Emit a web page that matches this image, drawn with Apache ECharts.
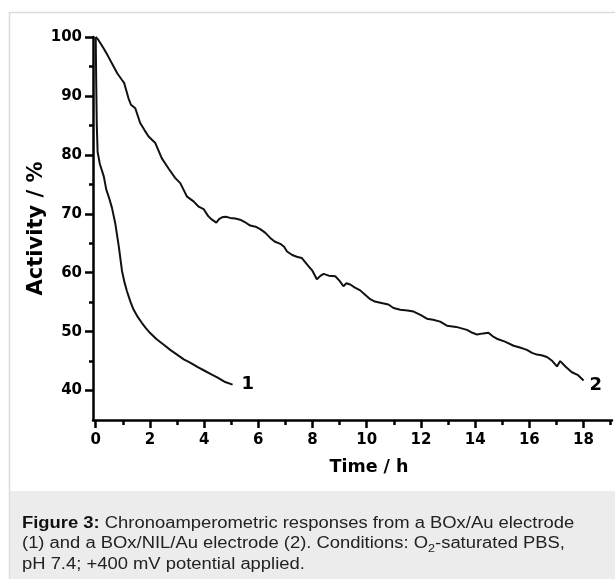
<!DOCTYPE html>
<html>
<head>
<meta charset="utf-8">
<script src="https://cdn.jsdelivr.net/npm/echarts@6/dist/echarts.min.js"></script>
<style>
  html, body { margin: 0; padding: 0; background: #fff; }
  #chart { width: 615px; height: 579px; }
</style>
</head>
<body>
<div id="chart"></div>
<script>
// curve 1: BOx/Au electrode
const timeAu = [0, 0.02, 0.04, 0.07, 0.15, 0.3, 0.39, 0.5, 0.6, 0.72, 0.85, 0.97, 1.06, 1.15, 1.28, 1.4, 1.55, 1.7, 1.85, 2.0, 2.25, 2.5, 2.75, 3.0, 3.25, 3.5, 3.75, 4.0, 4.25, 4.5, 4.75, 5.05];
const actAu = [100, 92, 85, 80.5, 78.5, 76.3, 74.1, 72.6, 71.0, 68.4, 64.5, 60.3, 58.4, 56.9, 55.1, 53.7, 52.5, 51.5, 50.6, 49.8, 48.7, 47.8, 46.9, 46.1, 45.3, 44.7, 44.0, 43.4, 42.8, 42.2, 41.5, 41.0];

// curve 2: BOx/NIL/Au electrode
const timeNil = [0, 0.1, 0.29, 0.45, 0.66, 0.8, 0.97, 1.05, 1.21, 1.3, 1.46, 1.64, 1.8, 1.95, 2.2, 2.44, 2.7, 2.93, 3.12, 3.24, 3.37, 3.61, 3.8, 3.98, 4.15, 4.29, 4.45, 4.55, 4.66, 4.8, 4.96, 5.15, 5.33, 5.5, 5.7, 5.9, 6.07, 6.25, 6.44, 6.6, 6.81, 6.95, 7.06, 7.25, 7.42, 7.6, 7.85, 8.0, 8.16, 8.3, 8.41, 8.6, 8.84, 9.0, 9.14, 9.25, 9.39, 9.55, 9.76, 9.95, 10.13, 10.3, 10.5, 10.8, 10.99, 11.24, 11.5, 11.73, 12.0, 12.22, 12.45, 12.71, 12.85, 12.96, 13.3, 13.7, 13.9, 14.07, 14.3, 14.49, 14.65, 14.8, 15.1, 15.42, 15.65, 15.91, 16.1, 16.28, 16.45, 16.65, 16.85, 17.02, 17.14, 17.35, 17.57, 17.8, 18.0];
const actNil = [100, 99.5, 98.1, 96.8, 95.0, 93.8, 92.7, 92.2, 89.6, 88.5, 87.9, 85.4, 84.2, 83.1, 82.0, 79.4, 77.6, 76.1, 75.2, 74.1, 72.9, 72.1, 71.2, 70.8, 69.6, 69.0, 68.5, 69.1, 69.4, 69.5, 69.3, 69.2, 69.0, 68.6, 68.0, 67.8, 67.4, 66.8, 65.9, 65.3, 64.9, 64.4, 63.6, 63.0, 62.7, 62.5, 61.1, 60.3, 58.9, 59.5, 59.8, 59.5, 59.4, 58.6, 57.7, 58.2, 58.0, 57.5, 57.0, 56.2, 55.5, 55.1, 54.9, 54.6, 54.0, 53.7, 53.6, 53.4, 52.8, 52.2, 52.0, 51.7, 51.3, 51.0, 50.8, 50.3, 49.8, 49.5, 49.7, 49.8, 49.2, 48.8, 48.3, 47.6, 47.3, 46.9, 46.4, 46.1, 46.0, 45.7, 45.0, 44.1, 45.0, 44.0, 43.1, 42.6, 41.7];

// axis ticks
const xMajor = [0, 2, 4, 6, 8, 10, 12, 14, 16, 18];
const xMinor = [1, 3, 5, 7, 9, 11, 13, 15, 17, 19];
const yMajor = [40, 50, 60, 70, 80, 90, 100];
const yMinor = [45, 55, 65, 75, 85, 95];

const seriesNames = ['1', '2'];
const captionText = '{b|Figure 3:} Chronoamperometric responses from a BOx/Au electrode\n' +
    '(1) and a BOx/NIL/Au electrode (2). Conditions: O{sub|2}-saturated PBS,\n' +
    'pH 7.4; +400 mV potential applied.';

const boldFont = 'DejaVu Sans';
const ink = '#000';

let pairs = (xs, ys) => xs.map((x, i) => [x, ys[i]]);

let chart = echarts.init(document.getElementById('chart'), null, {renderer: 'canvas'});

let axisBase = {
    type: 'value',
    gridIndex: 0,
    splitLine: {show: false},
};

let option = {
    animation: false,
    backgroundColor: '#fff',
    grid: {left: 93, top: 37, right: 3, bottom: 159, outerBoundsMode: 'none'},
    graphic: [
        {
            type: 'rect', silent: true, z: -10,
            shape: {x: 9.5, y: 12.5, width: 620, height: 580},
            style: {fill: '#fff', stroke: '#dadada', lineWidth: 1.5}
        },
        {
            type: 'rect', silent: true, z: -9,
            shape: {x: 10, y: 491, width: 610, height: 90},
            style: {fill: '#ececec'}
        },
        {
            // caption, widened a little like the figure
            type: 'text', silent: true,
            x: 22, y: 513, scaleX: 1.15,
            style: {
                text: captionText,
                font: '16px "Liberation Sans", Arial, sans-serif',
                fill: '#222',
                lineHeight: 20.5,
                verticalAlign: 'top',
                rich: {
                    b: {fontWeight: 'bold', fontSize: 16, fontFamily: 'Liberation Sans', lineHeight: 20.5, fill: '#111'},
                    sub: {fontSize: 11, fontFamily: 'Liberation Sans', lineHeight: 12, verticalAlign: 'bottom', fill: '#222'}
                }
            }
        }
    ],
    xAxis: [
        Object.assign({}, axisBase, {
            min: -0.1, max: 19.05,
            position: 'bottom',
            name: 'Time / h',
            nameLocation: 'middle',
            nameGap: 38,
            nameMoveOverlap: false,
            nameTextStyle: {fontFamily: boldFont, fontWeight: 'bold', fontSize: 17.5, color: ink, padding: [0, 0, 0, 33]},
            axisLine: {onZero: false, lineStyle: {color: ink, width: 2.5}},
            axisTick: {show: true, inside: false, length: 8, customValues: xMajor, lineStyle: {color: ink, width: 2.5}},
            axisLabel: {customValues: xMajor, margin: 13, fontFamily: boldFont, fontWeight: 'bold', fontSize: 15, color: ink}
        }),
        Object.assign({}, axisBase, {
            min: -0.1, max: 19.05,
            position: 'bottom',
            axisLine: {show: false, onZero: false},
            axisTick: {show: true, inside: false, length: 5, customValues: xMinor, lineStyle: {color: ink, width: 2.5}},
            axisLabel: {show: false}
        })
    ],
    yAxis: [
        Object.assign({}, axisBase, {
            min: 35, max: 100,
            position: 'left',
            name: 'Activity / %',
            nameLocation: 'middle',
            nameGap: 46,
            nameMoveOverlap: false,
            nameTextStyle: {fontFamily: boldFont, fontWeight: 'bold', fontSize: 21, color: ink},
            axisLine: {onZero: false, lineStyle: {color: ink, width: 2.5}},
            axisTick: {show: true, inside: false, length: 8, customValues: yMajor, lineStyle: {color: ink, width: 2.5}},
            axisLabel: {customValues: yMajor, margin: 11, fontFamily: boldFont, fontWeight: 'bold', fontSize: 15, color: ink}
        }),
        Object.assign({}, axisBase, {
            min: 35, max: 100,
            position: 'left',
            axisLine: {show: false, onZero: false},
            axisTick: {show: true, inside: false, length: 4, customValues: yMinor, lineStyle: {color: ink, width: 2.5}},
            axisLabel: {show: false}
        })
    ],
    series: [
        {
            name: seriesNames[0],
            type: 'line',
            xAxisIndex: 0,
            yAxisIndex: 0,
            data: pairs(timeAu, actAu),
            showSymbol: false,
            lineStyle: {color: '#111', width: 2},
            endLabel: {
                show: true, formatter: seriesNames[0], distance: 9,
                fontFamily: boldFont, fontWeight: 'bold', fontSize: 18, color: ink
            }
        },
        {
            name: seriesNames[1],
            type: 'line',
            xAxisIndex: 0,
            yAxisIndex: 0,
            data: pairs(timeNil, actNil),
            showSymbol: false,
            lineStyle: {color: '#111', width: 2},
            endLabel: {
                show: true, formatter: seriesNames[1], distance: 6, offset: [0, 5],
                fontFamily: boldFont, fontWeight: 'bold', fontSize: 18, color: ink
            }
        }
    ]
};

chart.setOption(option);
</script>
</body>
</html>
